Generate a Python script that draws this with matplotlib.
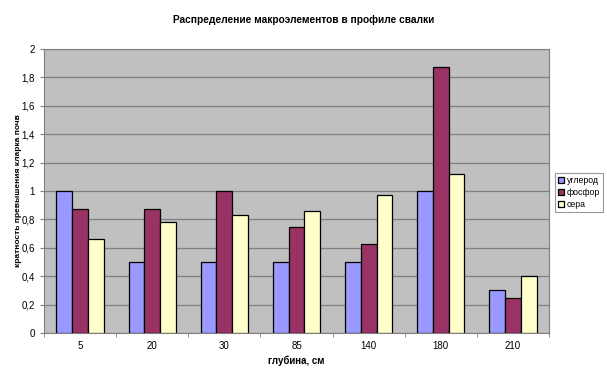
import numpy as np
import matplotlib.pyplot as plt

plt.rcParams['font.family'] = ['Liberation Sans', 'DejaVu Sans']

depths = ["5", "20", "30", "85", "140", "180", "210"]
carbon = [1.0, 0.5, 0.5, 0.5, 0.5, 1.0, 0.3]
phosphorus = [0.875, 0.875, 1.0, 0.75, 0.625, 1.875, 0.25]
sulfur = [0.66, 0.78, 0.83, 0.86, 0.97, 1.12, 0.4]

series = [
    ("углерод", carbon, "#9999FF"),
    ("фосфор", phosphorus, "#993366"),
    ("сера", sulfur, "#FFFFCC"),
]


def main():
    fig = plt.figure(figsize=(6.07, 3.78), dpi=100)
    ax = fig.add_axes([44 / 607, 1 - 333 / 378, 505 / 607, 284 / 378])
    ax.set_facecolor("#C0C0C0")

    x = np.arange(len(depths))
    w = 0.218
    for i, (name, vals, col) in enumerate(series):
        ax.bar(x + (i - 1) * w, vals, w, color=col, edgecolor="black",
               linewidth=0.9, label=name, zorder=3)

    ax.set_xlim(-0.5, len(depths) - 0.5)
    ax.set_ylim(0, 2)
    yt = np.arange(0, 2.01, 0.2)
    ax.set_yticks(yt)
    ax.set_yticklabels([f"{v:.1f}".replace(".", ",").replace(",0", "")
                        if v != 0 else "0" for v in yt])
    ax.set_xticks(x)
    ax.set_xticklabels(depths)
    ax.set_xticks(np.arange(-0.5, len(depths)), minor=True)
    ax.tick_params(axis="x", which="major", length=0, labelsize=7, pad=6)
    ax.tick_params(axis="x", which="minor", length=3, color="#808080")
    ax.tick_params(axis="y", length=3, labelsize=7, color="#808080")
    ax.grid(axis="y", color="#808080", linewidth=0.9, zorder=0)

    for s in ax.spines.values():
        s.set_color("#808080")

    ax.set_xlabel("глубина, см", fontsize=7, fontweight="bold", labelpad=3)
    ax.set_ylabel("кратность превышения кларка почв", fontsize=6,
                  fontweight="bold")
    ax.yaxis.set_label_coords(-22 / 505, 0.5)
    fig.text(304 / 607, 1 - 20 / 378,
             "Распределение макроэлементов в профиле свалки",
             ha="center", va="center", fontsize=7.3, fontweight="bold")

    leg = fig.legend(loc="upper left", bbox_to_anchor=(555 / 607, 1 - 173 / 378),
                     fontsize=6.3, frameon=True, fancybox=False, handlelength=0.7,
                     handleheight=0.7, handletextpad=0.3, borderpad=0.35,
                     labelspacing=0.35, borderaxespad=0)
    leg.get_frame().set_edgecolor("#808080")
    leg.get_frame().set_linewidth(0.8)

    fig.savefig("out.png", dpi=100)


if __name__ == "__main__":
    main()
